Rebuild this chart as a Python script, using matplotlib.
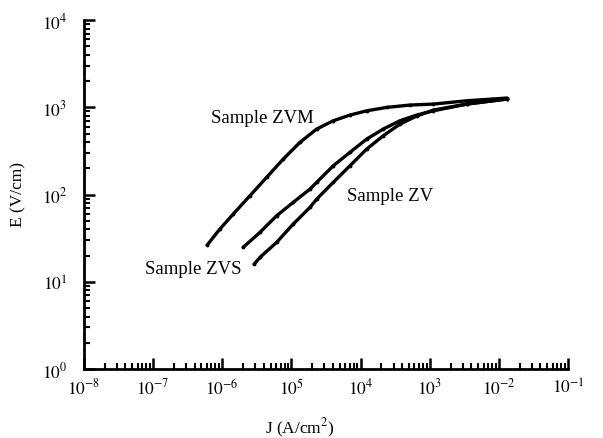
import numpy as np
import matplotlib
matplotlib.use("Agg")
import matplotlib.pyplot as plt
from matplotlib.ticker import LogLocator, NullFormatter, FixedLocator, FixedFormatter

plt.rcParams["font.family"] = ["Liberation Serif", "DejaVu Serif"]
plt.rcParams["mathtext.fontset"] = "stix"

# log10 values
zvm_logj = [-6.217, -6.033, -5.841, -5.599, -5.358, -5.117, -4.876, -4.634, -4.394,
            -4.153, -3.911, -3.622, -3.285, -2.948, -2.465, -1.886]
zvm_loge = [1.421, 1.605, 1.776, 1.986, 2.197, 2.407, 2.598, 2.751, 2.846,
            2.911, 2.960, 2.999, 3.026, 3.037, 3.075, 3.106]

zvs_logj = [-5.696, -5.454, -5.213, -4.973, -4.731, -4.634, -4.394, -4.153, -3.911,
            -3.671, -3.430, -3.188, -2.948, -2.465, -1.886]
zvs_loge = [1.395, 1.567, 1.757, 1.911, 2.063, 2.140, 2.330, 2.484, 2.636,
            2.751, 2.846, 2.911, 2.960, 3.037, 3.095]

zv_logj = [-5.537, -5.454, -5.213, -4.973, -4.731, -4.634, -4.394, -4.153, -3.911,
           -3.671, -3.430, -3.188, -2.948, -2.465, -1.886]
zv_loge = [1.203, 1.280, 1.452, 1.662, 1.853, 1.948, 2.140, 2.330, 2.521,
           2.674, 2.808, 2.900, 2.968, 3.037, 3.095]

x_ticks = [1e-8, 1e-7, 1e-6, 1e-5, 1e-4, 1e-3, 1e-2, 1e-1]
x_labels = ["$10^{-8}$", "$10^{-7}$", "$10^{-6}$", "$10^{5}$", "$10^{4}$", "$10^{3}$", "$10^{-2}$", "$10^{-1}$"]
y_ticks = [1e0, 1e1, 1e2, 1e3, 1e4]
y_labels = ["$10^{0}$", "$10^{1}$", "$10^{2}$", "$10^{3}$", "$10^{4}$"]

fig = plt.figure(figsize=(6.03, 4.39), dpi=100)
ax = fig.add_axes([0.139, 0.157, 0.803, 0.795])

for lj, le in [(zvm_logj, zvm_loge), (zvs_logj, zvs_loge), (zv_logj, zv_loge)]:
    ax.plot(10 ** np.array(lj), 10 ** np.array(le), color="black", lw=2.4,
            marker=".", ms=3.5, solid_capstyle="round", solid_joinstyle="round")

ax.set_xscale("log")
ax.set_yscale("log")
ax.set_xlim(1e-8, 1e-1)
ax.set_ylim(1e0, 1e4)

ax.xaxis.set_major_locator(FixedLocator(x_ticks))
ax.xaxis.set_major_formatter(FixedFormatter(x_labels))
ax.yaxis.set_major_locator(FixedLocator(y_ticks))
ax.yaxis.set_major_formatter(FixedFormatter(y_labels))
ax.xaxis.set_minor_locator(LogLocator(base=10, subs=np.arange(2, 10)))
ax.yaxis.set_minor_locator(LogLocator(base=10, subs=np.arange(2, 10)))
ax.xaxis.set_minor_formatter(NullFormatter())
ax.yaxis.set_minor_formatter(NullFormatter())

for s in ["top", "right"]:
    ax.spines[s].set_visible(False)
for s in ["left", "bottom"]:
    ax.spines[s].set_linewidth(2)

ax.tick_params(which="major", direction="in", length=8, width=1.8, labelsize=12.5)
ax.tick_params(axis="x", which="major", pad=6)
ax.tick_params(axis="y", which="major", pad=12)
ax.tick_params(which="minor", direction="in", length=4, width=1.5)

ax.text(0.368, 0.722, "Sample ZVM", transform=ax.transAxes, ha="center", va="center", fontsize=13.5)
ax.text(0.632, 0.496, "Sample ZV", transform=ax.transAxes, ha="center", va="center", fontsize=13.5)
ax.text(0.225, 0.287, "Sample ZVS", transform=ax.transAxes, ha="center", va="center", fontsize=13.5)

fig.text(0.03, 0.556, "E (V/cm)", rotation=90, ha="center", va="center", fontsize=12.5)
fig.text(0.498, 0.025, "J (A/cm$^2$)", ha="center", va="center", fontsize=12.5)

fig.savefig("out.png", dpi=100)
